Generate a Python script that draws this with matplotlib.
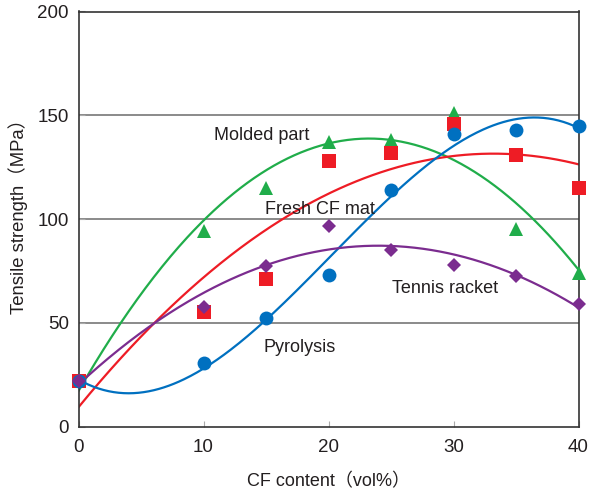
import numpy as np
import matplotlib
matplotlib.use('Agg')
from matplotlib import pyplot as plt

plt.rcParams['font.family'] = ['Liberation Sans', 'Noto Sans CJK JP', 'DejaVu Sans']

cf = [0, 10, 15, 20, 25, 30, 35, 40]
molded = [22, 94, 115, 137, 138, 151, 95, 74]
fresh = [22, 55, 71, 128, 132, 146, 131, 115]
pyrolysis = [22, 30.5, 52.5, 73, 114, 141, 143, 145]
tennis = [22, 57.5, 77.5, 96.5, 85, 78, 72.5, 59]

series = [
    ('Molded part', molded, '#20ad4a', '^', 2, 10.5),
    ('Fresh CF mat', fresh, '#ee1c25', 's', 2, 10),
    ('Pyrolysis', pyrolysis, '#0070c0', 'o', 3, 10),
    ('Tennis racket', tennis, '#7b2c8f', 'D', 2, 7),
]

fig = plt.figure(figsize=(5.9, 4.93), dpi=100)
ax = fig.add_axes([78.5 / 590, 1 - 426.5 / 493, 500 / 590, 415 / 493])

xs = np.linspace(0, 40, 300)
for name, ys, color, marker, deg, ms in series:
    # trend line: polynomial fit of the points
    p = np.polyfit(cf, ys, deg)
    ax.plot(xs, np.polyval(p, xs), color=color, lw=1.6, zorder=2)
for name, ys, color, marker, deg, ms in series:
    ax.plot(cf, ys, linestyle='none', marker=marker, color=color,
            markersize=ms, markeredgewidth=0, zorder=3, clip_on=False)

labels = [
    ('Molded part', 10.85, 138.1),
    ('Fresh CF mat', 14.9, 102.3),
    ('Tennis racket', 25.1, 64.2),
    ('Pyrolysis', 14.8, 36.0),
]
for txt, x, y in labels:
    ax.text(x, y, txt, fontsize=13, color='#231f20', va='baseline', ha='left')

ax.set_xlim(0, 40)
ax.set_ylim(0, 200)
ax.set_xticks([0, 10, 20, 30, 40])
ax.set_yticks([0, 50, 100, 150, 200])
ax.tick_params(direction='in', length=4, color='#aaaaaa', labelsize=13.5,
               labelcolor='#231f20')
ax.tick_params(axis='x', pad=9)
ax.tick_params(axis='y', pad=7)
for y in [50, 100, 150]:
    ax.axhline(y, color='#777777', lw=1.2, zorder=1)
for s in ax.spines.values():
    s.set_color('#333333')
    s.set_linewidth(1.2)

ax.set_xlabel('CF content（vol%）', fontsize=13, color='#231f20', labelpad=12)
ax.set_ylabel('Tensile strength（MPa）', fontsize=13.3, color='#231f20')
ax.yaxis.set_label_coords(-0.1, 0.517)

fig.savefig('out.png', dpi=100)
